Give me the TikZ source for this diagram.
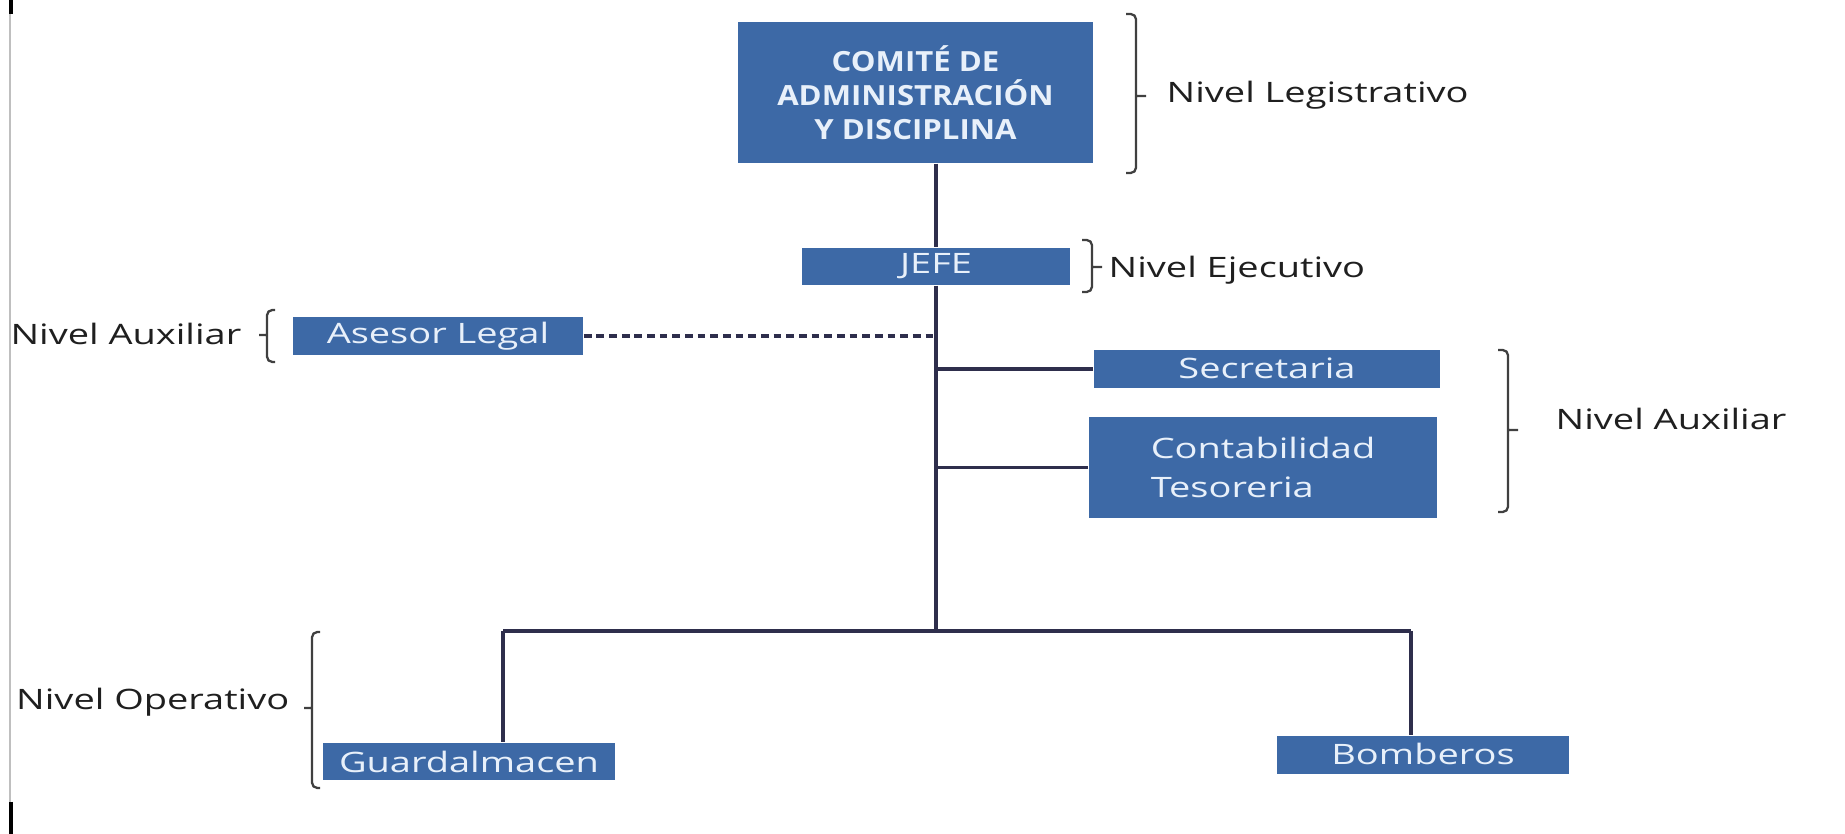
\documentclass[tikz,border=0pt]{standalone}
\usepackage{fontspec}
\setmainfont{Open Sans}[FakeStretch=1.35]
\newfontfamily\comitefont{Open Sans}[FakeStretch=1.12]
\usepackage{tikz}
\definecolor{boxblue}{HTML}{3D69A6}
\definecolor{boxtext}{HTML}{E8F0FA}
\definecolor{linecol}{HTML}{2E2E4C}
\definecolor{brackcol}{HTML}{404040}

\begin{document}
\begin{tikzpicture}[x=0.01cm,y=-0.01cm,
    box/.style={fill=boxblue,text=boxtext,inner sep=0pt,font=\fontsize{8}{11}\selectfont},
    conn/.style={draw=linecol,line width=0.9pt},
    dashline/.style={draw=linecol,line width=0.9pt,dash pattern=on 2.2pt off 1.4pt},
    brack/.style={draw=brackcol,line width=0.65pt,rounded corners=1.5pt},
    lvl/.style={inner sep=0pt,text=black!88,font=\fontsize{8}{10}\selectfont}]
    \useasboundingbox[fill=white] (0,0) rectangle (1845,834);
    % left edge of the page
    \draw[black!25,line width=0.4pt] (10,0)--(10,834);
    \draw[black,line width=1pt] (11,0)--(11,14);
    \draw[black,line width=1pt] (11,802)--(11,834);

    \node[box,minimum width=3.55cm,minimum height=1.41cm,align=center,
        font=\comitefont\bfseries\fontsize{7.9}{9.7}\selectfont] (comite) at (915.5,92.5)
        {COMITÉ DE\\ADMINISTRACIÓN\\Y DISCIPLINA};
    \node[box,minimum width=2.68cm,minimum height=0.37cm] (jefe) at (936,266.5) {JEFE};
    \node[box,minimum width=2.9cm,minimum height=0.38cm] (asesor) at (438,336) {Asesor Legal};
    \node[box,minimum width=3.46cm,minimum height=0.38cm] (secre) at (1267,369) {\raisebox{0.5pt}{Secretaria}};
    \node[box,minimum width=3.48cm,minimum height=1.01cm,align=left] (conta) at (1263,467.5)
        {Contabilidad\\Tesoreria};
    \node[box,minimum width=2.92cm,minimum height=0.37cm] (guard) at (469,761.5) {Guardalmacen};
    \node[box,minimum width=2.92cm,minimum height=0.38cm] (bomb) at (1423,755) {\raisebox{0.5pt}{Bomberos}};

    \coordinate (bus) at (936,631);
    \coordinate (busl) at (503,631);
    \coordinate (busr) at (1411,631);

    \draw[conn] (comite.south -| jefe.north) -- (jefe.north);
    \draw[conn] (jefe.south) -- (bus);
    \draw[conn] (secre.west) -- (secre.west -| bus);
    \draw[conn] (conta.west) -- (conta.west -| bus);
    \draw[dashline] (asesor.east) -- (asesor.east -| bus);
    \draw[conn] (busl) -- (busr);
    \draw[conn] (busl) -- (busl |- guard.north);
    \draw[conn] (busr) -- (busr |- bomb.north);

    % brackets of the levels
    \foreach \x/\ya/\yb/\ym in {1136/14/173/96, 1092/240/292/267, 1508/350/512/430}
        \draw[brack] (\x-10,\ya) -- (\x,\ya) -- (\x,\yb) -- (\x-10,\yb) (\x,\ym) -- ++(10,0);
    \foreach \x/\ya/\yb/\ym in {267/310/362/335, 312/632/788/708}
        \draw[brack] (\x+8,\ya) -- (\x,\ya) -- (\x,\yb) -- (\x+8,\yb) (\x,\ym) -- ++(-8,0);

    \node[lvl,anchor=base west] (legis) at (1166,103) {Nivel Legistrativo};
    \node[lvl,anchor=base west] (ejec) at (1108,278) {Nivel Ejecutivo};
    \node[lvl,anchor=base west] (auxr) at (1555,430) {Nivel Auxiliar};
    \node[lvl,anchor=base east] (auxl) at (242,345) {Nivel Auxiliar};
    \node[lvl,anchor=base east] (oper) at (290,710) {Nivel Operativo};
\end{tikzpicture}
\end{document}
